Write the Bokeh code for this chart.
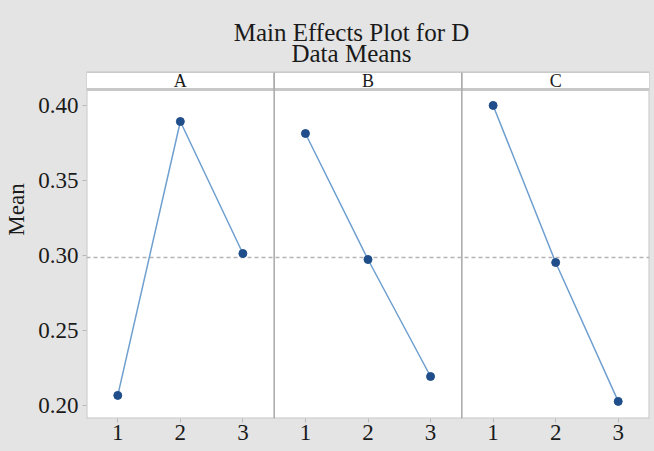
from bokeh.plotting import figure
from bokeh.models import Range1d, FixedTicker, ColumnDataSource
from bokeh.core.properties import value
from bokeh.embed import file_html
from bokeh.resources import INLINE

# ---- data ----
title_main = "Main Effects Plot for D"
title_sub = "Data Means"
factors = ["A", "B", "C"]
levels = ["1", "2", "3"]
means_A = [0.2067, 0.3893, 0.3013]
means_B = [0.3813, 0.2973, 0.2193]
means_C = [0.4000, 0.2953, 0.2027]
grand_mean = 0.2987
y_ticks = [0.20, 0.25, 0.30, 0.35, 0.40]
y_label = "Mean"

all_means = [means_A, means_B, means_C]
nlev = len(levels)

FONT = "'Liberation Serif', 'Times New Roman', serif"
BG = "#e4e4e4"
TXT = "#1a1a1a"

# frame spans from the canvas top down to the x axis
H, FRAME_BOTTOM = 451, 418
PX_PER_UNIT = 1500.0
ylo = 0.1913
ytop_canvas = ylo + FRAME_BOTTOM / PX_PER_UNIT
yplot_top = 0.4107          # top of the plotting panels
ystrip_top = 0.4220         # top of the strip header
xlo, xhi = 0.5, len(factors) * nlev + 0.5
px_per_x = (654 - 86 - 5) / (xhi - xlo)

p = figure(width=654, height=H, output_backend="svg", toolbar_location=None,
           x_range=Range1d(xlo, xhi), y_range=Range1d(ylo, ytop_canvas),
           min_border_left=86, min_border_right=5, min_border_top=0,
           min_border_bottom=H - FRAME_BOTTOM)
p.styles = {"background-color": BG}
p.border_fill_color = BG
p.background_fill_color = BG
p.outline_line_color = None
p.grid.visible = False

# axes
p.yaxis.ticker = FixedTicker(ticks=y_ticks)
p.yaxis.major_label_overrides = {t: f"{t:.2f}" for t in y_ticks}
p.yaxis.bounds = (0.20, 0.424)
xt = [i * nlev + j + 1 for i in range(len(factors)) for j in range(nlev)]
p.xaxis.ticker = FixedTicker(ticks=xt)
p.xaxis.major_label_overrides = {i * nlev + j + 1: levels[j] for i in range(len(factors)) for j in range(nlev)}
for ax in (p.xaxis, p.yaxis):
    ax.axis_line_color = None
    ax.major_tick_in = 0
    ax.major_tick_out = 4
    ax.major_tick_line_color = "#b8b8b8"
    ax.minor_tick_line_color = None
    ax.major_label_text_font = FONT
    ax.major_label_text_font_size = "23px"
    ax.major_label_text_color = TXT
p.xaxis.major_label_standoff = 2
p.yaxis.major_label_standoff = 4
p.yaxis.axis_label = y_label
p.yaxis.axis_label_text_font = FONT
p.yaxis.axis_label_text_font_size = "23px"
p.yaxis.axis_label_text_font_style = "normal"
p.yaxis.axis_label_text_color = TXT
p.yaxis.axis_label_standoff = 6

# panel area + strip headers
lefts = [i * nlev + 0.5 for i in range(len(factors))]
rights = [l + nlev for l in lefts]
centers = [(l + r) / 2 for l, r in zip(lefts, rights)]
p.quad(left=[xlo], right=[xhi], bottom=[ylo], top=[ystrip_top], fill_color="white",
       line_color="#c4c4c4", line_width=2)
p.quad(left=lefts, right=rights, bottom=yplot_top, top=ystrip_top, fill_color="white",
       line_color="#c8c8c8", line_width=1)
p.segment(x0=[xlo], x1=[xhi], y0=[yplot_top], y1=[yplot_top], line_color="#c8c8c8", line_width=3)
p.text(x=centers, y=[(yplot_top + ystrip_top) / 2] * len(factors), text=factors,
       text_font=value(FONT), text_font_size="18px", text_align="center",
       text_baseline="middle", text_color=TXT)

# panel dividers
p.segment(x0=rights[:-1], x1=rights[:-1], y0=[ylo] * (len(factors) - 1),
          y1=[ystrip_top] * (len(factors) - 1), line_color="#a8a8a8", line_width=1.5)

# reference line (grand mean)
p.segment(x0=[xlo], x1=[xhi], y0=[grand_mean], y1=[grand_mean], line_color="#b4b4b4",
          line_width=1.5, line_dash="4 3")

# series
for i, m in enumerate(all_means):
    xs = [i * nlev + j + 1 for j in range(nlev)]
    src = ColumnDataSource(dict(x=xs, y=m))
    p.line("x", "y", source=src, line_color="#6f9fcf", line_width=1.5)
    p.scatter("x", "y", source=src, size=8, fill_color="#1f4e8a", line_color="#1f4e8a")

# two-line title
title_x = xlo + (351 - 86) / px_per_x
p.text(x=[title_x, title_x],
       y=[ytop_canvas - 32 / PX_PER_UNIT, ytop_canvas - 53 / PX_PER_UNIT],
       text=[title_main, title_sub], text_font=value(FONT), text_font_size="25px",
       text_align="center", text_baseline="alphabetic", text_color=TXT)

open("out.html", "w").write(file_html(p, INLINE))
